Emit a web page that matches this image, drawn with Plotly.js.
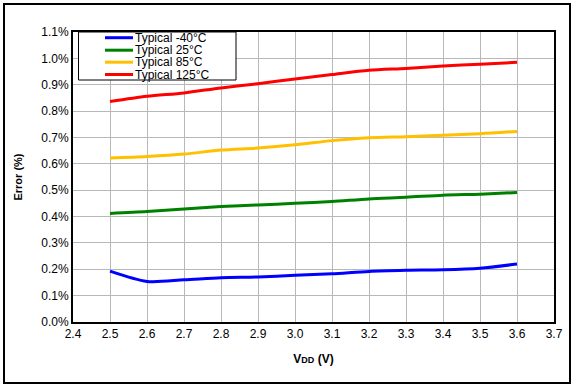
<!DOCTYPE html>
<html>
<head>
<meta charset="utf-8">
<script src="https://cdn.plot.ly/plotly-3.0.1.min.js"></script>
<style>html,body{margin:0;padding:0;background:#fff;}#chart{width:574px;height:387px;}</style>
</head>
<body>
<div id="chart"></div>
<script>
// Data (Error % vs VDD)
var vdd = [2.5, 2.6, 2.7, 2.8, 2.9, 3.0, 3.1, 3.2, 3.3, 3.4, 3.5, 3.6];
var errM40 = [0.193, 0.154, 0.160, 0.168, 0.171, 0.177, 0.183, 0.192, 0.196, 0.198, 0.204, 0.220];
var err25  = [0.412, 0.419, 0.429, 0.438, 0.444, 0.450, 0.457, 0.467, 0.473, 0.481, 0.485, 0.491];
var err85  = [0.622, 0.628, 0.637, 0.652, 0.660, 0.672, 0.688, 0.699, 0.703, 0.708, 0.714, 0.723];
var err125 = [0.836, 0.856, 0.869, 0.888, 0.904, 0.922, 0.939, 0.955, 0.962, 0.971, 0.978, 0.985];
var seriesNames = ["Typical -40°C", "Typical 25°C", "Typical 85°C", "Typical 125°C"];
var seriesColors = ["#0000FF", "#008000", "#FFC000", "#FF0000"];
var seriesValues = [errM40, err25, err85, err125];
var xTicks = [2.4, 2.5, 2.6, 2.7, 2.8, 2.9, 3.0, 3.1, 3.2, 3.3, 3.4, 3.5, 3.6, 3.7];

// plot area geometry (pixels)
var W = 574, H = 387, L = 73, R = 20, T = 32, B = 65;
var pw = W - L - R, ph = H - T - B;
function px(x) { return (x - L) / pw; }
function py(y) { return (H - B - y) / ph; }

var traces = seriesValues.map(function (v, i) {
  return {
    x: vdd, y: v, type: 'scatter', mode: 'lines', name: seriesNames[i],
    line: { color: seriesColors[i], width: 3, shape: 'spline', smoothing: 0.8 },
    showlegend: false, hoverinfo: 'x+y'
  };
});

var shapes = [
  { type: 'rect', xref: 'paper', yref: 'paper', x0: px(4), x1: px(570), y0: py(383), y1: py(4),
    line: { color: '#000', width: 2 }, fillcolor: 'rgba(0,0,0,0)', layer: 'above' },
  { type: 'rect', xref: 'paper', yref: 'paper', x0: px(78.5), x1: px(236), y0: py(80), y1: py(32),
    line: { color: '#000', width: 1 }, fillcolor: '#fff', layer: 'above' }
];
var annotations = [];
var rowY = [37.7, 50.2, 62.2, 74.5];
seriesNames.forEach(function (n, i) {
  shapes.push({ type: 'line', xref: 'paper', yref: 'paper', x0: px(105), x1: px(133),
    y0: py(rowY[i]), y1: py(rowY[i]), line: { color: seriesColors[i], width: 3 }, layer: 'above' });
  annotations.push({ xref: 'paper', yref: 'paper', x: px(134), y: py(rowY[i]), text: n,
    showarrow: false, xanchor: 'left', yanchor: 'middle', borderpad: 0,
    font: { family: 'Liberation Sans, Arial, sans-serif', size: 12, color: '#000' } });
});

var layout = {
  width: W, height: H,
  margin: { l: L, r: R, t: T, b: B, pad: 0 },
  paper_bgcolor: '#fff', plot_bgcolor: '#fff',
  font: { family: 'Liberation Sans, Arial, sans-serif', size: 12, color: '#000' },
  showlegend: false,
  xaxis: {
    range: [2.4, 3.7], tickvals: xTicks, ticktext: xTicks.map(function (t) { return t.toFixed(1); }),
    showgrid: true, gridcolor: '#b8b8b8', gridwidth: 1,
    showline: true, linecolor: '#000', linewidth: 2, mirror: true,
    ticks: '', zeroline: false,
    title: { text: '<b>V<span style="font-size:9px">DD</span> (V)</b>', font: { size: 12 }, standoff: 14 }
  },
  yaxis: {
    range: [0, 1.1], dtick: 0.1, tick0: 0, tickformat: '.1f', ticksuffix: '%',
    showgrid: true, gridcolor: '#b8b8b8', gridwidth: 1,
    showline: true, linecolor: '#000', linewidth: 2, mirror: true,
    ticks: '', zeroline: false,
    title: { text: '<b>Error (%)</b>', font: { size: 11 }, standoff: 16 }
  },
  shapes: shapes,
  annotations: annotations
};

Plotly.newPlot('chart', traces, layout, { displayModeBar: false, staticPlot: true });
</script>
</body>
</html>
